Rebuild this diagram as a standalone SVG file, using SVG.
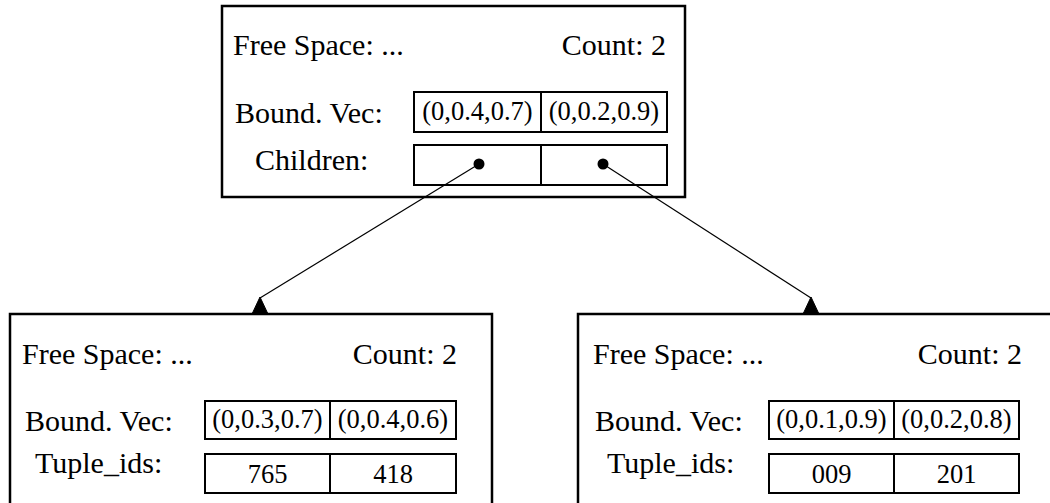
<svg xmlns="http://www.w3.org/2000/svg" width="1050" height="503" viewBox="0 0 1050 503">
  <style>
    .box { fill: #ffffff; stroke: #000000; stroke-width: 2.5; }
    .cell { fill: #ffffff; stroke: #000000; stroke-width: 2; }
    .lbl { font-family: 'Liberation Serif', 'Times New Roman', Times, serif; font-size: 30px; fill: #000000; }
    .val { font-family: 'Liberation Serif', 'Times New Roman', Times, serif; font-size: 26.5px; fill: #000000; text-anchor: middle; }
    .link { fill: none; stroke: #000000; stroke-width: 1.2; marker-start: url(#dot); }
    .tip { fill: #000000; stroke: #000000; stroke-width: 1; stroke-linejoin: miter; }
  </style>
  <defs>
    <marker id="dot" markerUnits="userSpaceOnUse" markerWidth="12" markerHeight="12" refX="6" refY="6" orient="0">
      <circle cx="6" cy="6" r="5.5" fill="#000000"/>
    </marker>
  </defs>

  <!-- parent node -->
  <g id="parent">
    <rect class="box" x="222" y="6" width="463" height="191"/>
    <text class="lbl" x="233" y="55">Free Space: ...</text>
    <text class="lbl" x="666" y="55" text-anchor="end">Count: 2</text>
    <text class="lbl" x="235" y="123">Bound. Vec:</text>
    <text class="lbl" x="255" y="170">Children:</text>
    <rect class="cell" x="414" y="92" width="127" height="40"/>
    <rect class="cell" x="541" y="92" width="126" height="40"/>
    <text class="val" x="477.5" y="120">(0,0.4,0.7)</text>
    <text class="val" x="604" y="120">(0,0.2,0.9)</text>
    <rect class="cell" x="414" y="145" width="127" height="40"/>
    <rect class="cell" x="541" y="145" width="126" height="40"/>
  </g>

  <!-- left child -->
  <g id="child-left">
    <rect class="box" x="10" y="314" width="482" height="210"/>
    <text class="lbl" x="22" y="364">Free Space: ...</text>
    <text class="lbl" x="457" y="364" text-anchor="end">Count: 2</text>
    <text class="lbl" x="25" y="431">Bound. Vec:</text>
    <text class="lbl" x="35" y="473">Tuple_ids:</text>
    <rect class="cell" x="205" y="401" width="125" height="38"/>
    <rect class="cell" x="330" y="401" width="126" height="38"/>
    <text class="val" x="267.5" y="428">(0,0.3,0.7)</text>
    <text class="val" x="393" y="428">(0,0.4,0.6)</text>
    <rect class="cell" x="205" y="454" width="125" height="39"/>
    <rect class="cell" x="330" y="454" width="126" height="39"/>
    <text class="val" x="267.5" y="483">765</text>
    <text class="val" x="393" y="483">418</text>
  </g>

  <!-- right child -->
  <g id="child-right">
    <rect class="box" x="578" y="314" width="490" height="210"/>
    <text class="lbl" x="593" y="364">Free Space: ...</text>
    <text class="lbl" x="1022" y="364" text-anchor="end">Count: 2</text>
    <text class="lbl" x="595" y="431">Bound. Vec:</text>
    <text class="lbl" x="607" y="473">Tuple_ids:</text>
    <rect class="cell" x="769" y="401" width="125" height="38"/>
    <rect class="cell" x="894" y="401" width="125" height="38"/>
    <text class="val" x="831.5" y="428">(0,0.1,0.9)</text>
    <text class="val" x="956.5" y="428">(0,0.2,0.8)</text>
    <rect class="cell" x="769" y="454" width="125" height="39"/>
    <rect class="cell" x="894" y="454" width="125" height="39"/>
    <text class="val" x="831.5" y="483">009</text>
    <text class="val" x="956.5" y="483">201</text>
  </g>

  <!-- child pointers: line from the slot dot, ending in a triangle on the child's top edge -->
  <g id="connectors">
    <line class="link" x1="479" y1="164" x2="260" y2="298"/>
    <polygon class="tip" points="260,297 267.5,313 252.5,313"/>
    <line class="link" x1="603" y1="164" x2="811" y2="298"/>
    <polygon class="tip" points="811,297 818.5,313 803.5,313"/>
  </g>
</svg>
